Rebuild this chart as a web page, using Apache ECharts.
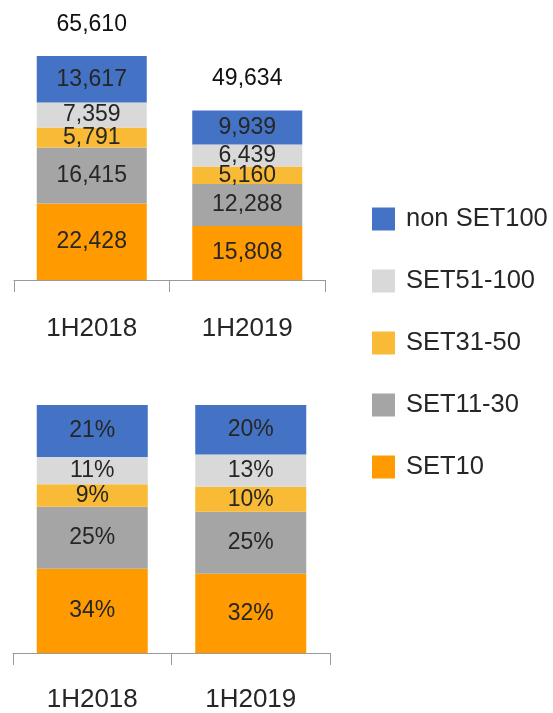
<!DOCTYPE html>
<html>
<head>
<meta charset="utf-8">
<script src="https://cdn.jsdelivr.net/npm/echarts@6/dist/echarts.min.js"></script>
<style>
  html, body { margin: 0; padding: 0; background: #fff; }
  #main { width: 553px; height: 713px; }
</style>
</head>
<body>
<div id="main"></div>
<script>
var categories = ['1H2018', '1H2019'];
var seriesNames = ['SET10', 'SET11-30', 'SET31-50', 'SET51-100', 'non SET100'];
var legendOrder = ['non SET100', 'SET51-100', 'SET31-50', 'SET11-30', 'SET10'];
var colors = ['#FF9A00', '#A5A5A5', '#F9BA36', '#D9D9D9', '#4472C4'];

// values (top chart)
var set10 = [22428, 15808];
var set11_30 = [16415, 12288];
var set31_50 = [5791, 5160];
var set51_100 = [7359, 6439];
var nonSet100 = [13617, 9939];
var totals = [65610, 49634];

// shares in % (bottom chart)
var pctSet10 = [34, 32];
var pctSet11_30 = [25, 25];
var pctSet31_50 = [9, 10];
var pctSet51_100 = [11, 13];
var pctNonSet100 = [21, 20];

var valueData = [set10, set11_30, set31_50, set51_100, nonSet100];
var pctData = [pctSet10, pctSet11_30, pctSet31_50, pctSet51_100, pctNonSet100];

var textColor = '#262626';
var axisColor = '#9a9a9a';
var font = 'Liberation Sans';

function fmtNum(v) {
    return String(v).replace(/\B(?=(\d{3})+(?!\d))/g, ',');
}

var series = [];
for (var i = 0; i < seriesNames.length; i++) {
    series.push({
        name: seriesNames[i],
        type: 'bar',
        stack: 'val',
        xAxisIndex: 0,
        yAxisIndex: 0,
        barWidth: 110,
        itemStyle: { color: colors[i] },
        label: {
            show: true, position: 'inside', color: textColor,
            fontSize: 23, fontFamily: font,
            formatter: function (p) { return fmtNum(p.value); }
        },
        data: valueData[i]
    });
}
// totals above the top bars
series.push({
    name: 'total',
    type: 'bar',
    xAxisIndex: 0,
    yAxisIndex: 0,
    barWidth: 110,
    barGap: '-100%',
    silent: true,
    itemStyle: { color: 'rgba(0,0,0,0)' },
    label: {
        show: true, position: 'top', distance: 20, color: '#111',
        fontSize: 23, fontFamily: font,
        formatter: function (p) { return fmtNum(p.value); }
    },
    z: 1,
    data: totals
});
for (var j = 0; j < seriesNames.length; j++) {
    series.push({
        name: seriesNames[j],
        type: 'bar',
        stack: 'pct',
        xAxisIndex: 1,
        yAxisIndex: 1,
        barWidth: 111,
        itemStyle: { color: colors[j] },
        label: {
            show: true, position: 'inside', color: textColor,
            fontSize: 23, fontFamily: font,
            formatter: '{c}%'
        },
        data: pctData[j]
    });
}

function catAxis(idx, margin) {
    return {
        type: 'category',
        gridIndex: idx,
        data: categories,
        axisLine: { lineStyle: { color: axisColor, width: 1 } },
        axisTick: { show: true, length: 12, lineStyle: { color: axisColor } },
        axisLabel: { margin: margin, color: textColor, fontSize: 26, fontFamily: font }
    };
}

var myChart = echarts.init(document.getElementById('main'));
var option = {
    animation: false,
    backgroundColor: '#fff',
    legend: {
        data: legendOrder,
        orient: 'vertical',
        left: 372,
        top: 206,
        padding: 0,
        itemWidth: 23,
        itemHeight: 23,
        itemGap: 36,
        icon: 'rect',
        textStyle: { color: textColor, fontSize: 25.5, fontFamily: font, padding: [0, 0, 0, 6] }
    },
    grid: [
        { left: 14, width: 311, top: 41, height: 239 },
        { left: 13, width: 317, top: 405, height: 248 }
    ],
    xAxis: [catAxis(0, 36), catAxis(1, 34)],
    yAxis: [
        { type: 'value', gridIndex: 0, min: 0, max: 70000, show: false },
        { type: 'value', gridIndex: 1, min: 0, max: 100, show: false }
    ],
    series: series
};
myChart.setOption(option);
</script>
</body>
</html>
